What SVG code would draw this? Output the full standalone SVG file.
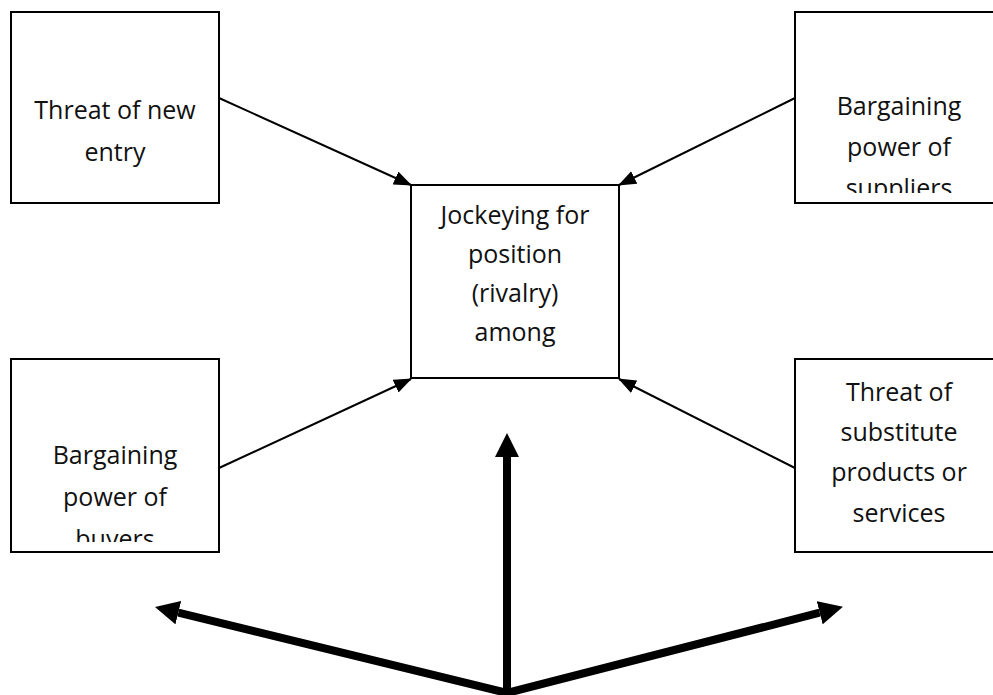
<svg xmlns="http://www.w3.org/2000/svg" width="993" height="695" viewBox="0 0 993 695">
  <style>
    .box { fill: #ffffff; stroke: #000000; stroke-width: 2; }
    .label { font-family: "Open Sans", "Liberation Sans", sans-serif; font-size: 25px; fill: #111111; text-anchor: middle; }
    .thin { fill: none; stroke: #000000; stroke-width: 2; marker-end: url(#headThin); }
    .thick { fill: none; stroke: #000000; stroke-width: 8; stroke-linejoin: miter; }
  </style>
  <defs>
    <marker id="headThin" markerUnits="userSpaceOnUse" viewBox="0 0 18 14" refX="17" refY="7" markerWidth="18" markerHeight="14" orient="auto">
      <path d="M0,0 L18,7 L0,14 Z" fill="#000000"/>
    </marker>
    <marker id="headThick" markerUnits="userSpaceOnUse" viewBox="0 0 24 24" refX="0" refY="12" markerWidth="24" markerHeight="24" orient="auto-start-reverse">
      <path d="M0,0 L24,12 L0,24 Z" fill="#000000"/>
    </marker>
    <clipPath id="clipSuppliers"><rect x="795" y="12" width="208" height="181"/></clipPath>
    <clipPath id="clipBuyers"><rect x="11" y="359" width="208" height="183"/></clipPath>
  </defs>

  <rect width="993" height="695" fill="#ffffff"/>

  <!-- forces around the centre -->
  <g id="new-entry">
    <rect class="box" x="11" y="12" width="208" height="191"/>
    <text class="label" x="115" y="119">Threat of new</text>
    <text class="label" x="115" y="161">entry</text>
  </g>

  <g id="suppliers">
    <rect class="box" x="795" y="12" width="208" height="191"/>
    <g clip-path="url(#clipSuppliers)">
      <text class="label" x="899" y="115">Bargaining</text>
      <text class="label" x="899" y="156">power of</text>
      <text class="label" x="899" y="197">suppliers</text>
    </g>
  </g>

  <g id="rivalry">
    <rect class="box" x="411" y="185" width="208" height="193"/>
    <text class="label" x="515" y="224">Jockeying for</text>
    <text class="label" x="515" y="263">position</text>
    <text class="label" x="515" y="302">(rivalry)</text>
    <text class="label" x="515" y="341">among</text>
  </g>

  <g id="buyers">
    <rect class="box" x="11" y="359" width="208" height="193"/>
    <g clip-path="url(#clipBuyers)">
      <text class="label" x="115" y="464">Bargaining</text>
      <text class="label" x="115" y="506">power of</text>
      <text class="label" x="115" y="548">buyers</text>
    </g>
  </g>

  <g id="substitutes">
    <rect class="box" x="795" y="359" width="208" height="193"/>
    <text class="label" x="899" y="401">Threat of</text>
    <text class="label" x="899" y="441">substitute</text>
    <text class="label" x="899" y="481">products or</text>
    <text class="label" x="899" y="522">services</text>
  </g>

  <!-- connectors -->
  <g id="connectors">
    <line class="thin" x1="219" y1="98" x2="411" y2="185"/>
    <line class="thin" x1="795" y1="98" x2="619" y2="185"/>
    <line class="thin" x1="219" y1="468" x2="411" y2="379"/>
    <line class="thin" x1="795" y1="468" x2="619" y2="379"/>

    <path class="thick" d="M178.3,612.7 L507,693 L819.7,612.7" marker-start="url(#headThick)" marker-end="url(#headThick)"/>
    <line class="thick" x1="507" y1="695" x2="507" y2="457" marker-end="url(#headThick)"/>
  </g>
</svg>
